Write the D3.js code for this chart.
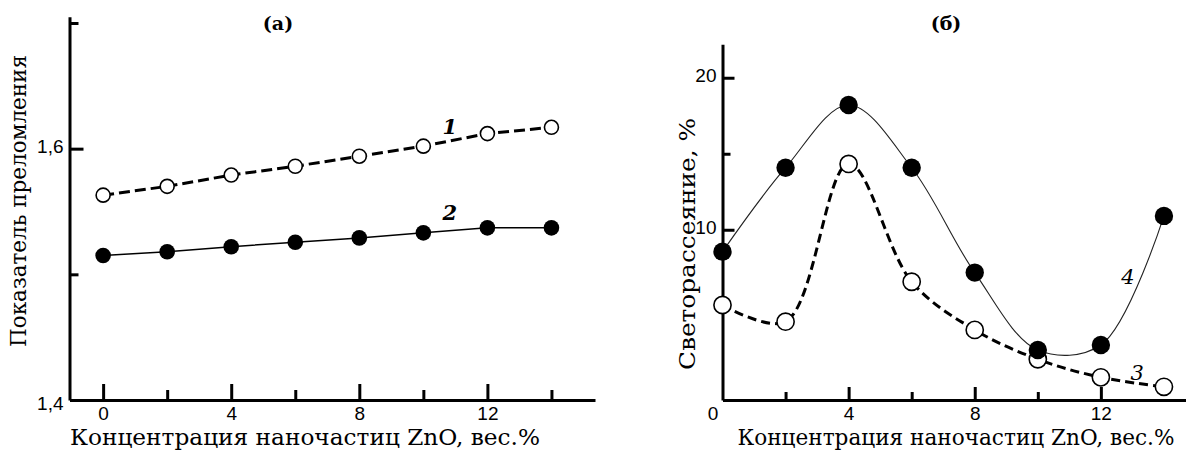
<!DOCTYPE html>
<html>
<head>
<meta charset="utf-8">
<script src="https://cdn.jsdelivr.net/npm/d3@7/dist/d3.min.js"></script>
<style>
  html, body { margin: 0; padding: 0; background: #fff; }
  svg { display: block; }
  .tick text { font-family: "Liberation Sans Narrow", "Arial Narrow", "Liberation Sans", sans-serif; font-size: 19px; fill: #000; }
  .ttl { font-family: "DejaVu Serif", "Liberation Serif", serif; fill: #000; }
</style>
</head>
<body>
<svg id="chart" width="1186" height="451"></svg>
<script>
// ---------- data ----------
const concentration = [0, 2, 4, 6, 8, 10, 12, 14];
// panel (а): refractive index
const refr1 = [1.563, 1.570, 1.579, 1.586, 1.594, 1.602, 1.612, 1.617]; // open, dashed
const refr2 = [1.515, 1.518, 1.522, 1.5255, 1.529, 1.533, 1.537, 1.537]; // filled, solid
// panel (б): light scattering, %
const scatter3 = [5.05, 3.95, 14.33, 6.58, 3.41, 1.48, 0.29, -0.33]; // open, dashed
const scatter4 = [8.56, 14.08, 18.21, 14.08, 7.18, 2.09, 2.42, 10.91]; // filled, solid
// ticks
const xTickMajorA = [0, 4, 8, 12];
const xTickMinorA = [2, 6, 10, 14];
const yTickMajorA = [1.6];
const yTickMinorA = [1.5, 1.7];
const yTickCornerA = [1.4];
const xTickMajorB = [4, 8, 12];
const xTickMinorB = [2, 6, 10];
const xTickCornerB = [0];
const yTickMajorB = [10, 20];
const yTickMinorB = [5, 15];
// texts
const titleA = "(а)";
const titleB = "(б)";
const xTitle = "Концентрация наночастиц ZnO, вес.%";
const yTitleA = "Показатель преломления";
const yTitleB = "Светорассеяние,  %";
const seriesLabelsA = [{t: "1", x: 10.83, y: 1.612}, {t: "2", x: 10.83, y: 1.543}];
const seriesLabelsB = [{t: "4", x: 12.86, y: 6.4}, {t: "3", x: 13.15, y: 0.12}];

// ---------- drawing ----------
const svg = d3.select("#chart");
const fmt = d => String(d).replace(".", ",");

function styleAxis(g, width) {
  g.selectAll("path.domain").attr("stroke", "#000").attr("stroke-width", 3);
  g.selectAll(".tick line").attr("stroke", "#000").attr("stroke-width", width || 3);
  g.attr("font-family", null).attr("font-size", null);
}

// ===== Panel (а) =====
const xA = d3.scaleLinear().domain([-1.05, 15.36]).range([69.5, 595]);
const yA = d3.scaleLinear().domain([1.4, 1.705]).range([400, 16.7]);

const gxA = svg.append("g").attr("transform", `translate(0,${yA(1.4)})`)
  .call(d3.axisBottom(xA).tickValues(xTickMajorA).tickSizeInner(-16).tickSizeOuter(0).tickPadding(7).tickFormat(fmt));
styleAxis(gxA);
const gxA2 = svg.append("g").attr("transform", `translate(0,${yA(1.4)})`)
  .call(d3.axisBottom(xA).tickValues(xTickMinorA).tickSizeInner(-10).tickSizeOuter(0).tickFormat(""));
gxA2.select(".domain").remove(); styleAxis(gxA2);

const gyA = svg.append("g").attr("transform", `translate(${xA.range()[0]},0)`)
  .call(d3.axisLeft(yA).tickValues(yTickMajorA).tickSizeInner(-14).tickSizeOuter(0).tickPadding(6).tickFormat(fmt));
styleAxis(gyA);
gyA.selectAll(".tick text").attr("dy", "0.2em");
const gyA2 = svg.append("g").attr("transform", `translate(${xA.range()[0]},0)`)
  .call(d3.axisLeft(yA).tickValues(yTickMinorA).tickSizeInner(-9).tickSizeOuter(0).tickFormat(""));
gyA2.select(".domain").remove(); styleAxis(gyA2);
const gyA3 = svg.append("g").attr("transform", `translate(${xA.range()[0]},0)`)
  .call(d3.axisLeft(yA).tickValues(yTickCornerA).tickSizeInner(0).tickSizeOuter(0).tickPadding(6).tickFormat(fmt));
gyA3.select(".domain").remove(); styleAxis(gyA3);
gyA3.selectAll(".tick text").attr("dy", "0.5em");

const lineA = d3.line().x((d, i) => xA(concentration[i])).y(d => yA(d)).curve(d3.curveLinear);
svg.append("path").datum(refr1).attr("d", lineA)
  .attr("fill", "none").attr("stroke", "#000").attr("stroke-width", 3).attr("stroke-dasharray", "11,5");
svg.append("path").datum(refr2).attr("d", lineA)
  .attr("fill", "none").attr("stroke", "#000").attr("stroke-width", 1.5);

svg.append("g").selectAll("circle").data(refr1).join("circle")
  .attr("cx", (d, i) => xA(concentration[i])).attr("cy", d => yA(d)).attr("r", 7)
  .attr("fill", "#fff").attr("stroke", "#000").attr("stroke-width", 1.6);
svg.append("g").selectAll("circle").data(refr2).join("circle")
  .attr("cx", (d, i) => xA(concentration[i])).attr("cy", d => yA(d)).attr("r", 7.8)
  .attr("fill", "#000");

svg.append("g").selectAll("text").data(seriesLabelsA).join("text")
  .attr("class", "ttl").attr("x", d => xA(d.x)).attr("y", d => yA(d.y))
  .attr("text-anchor", "middle").attr("font-size", 21).attr("font-style", "italic").attr("font-weight", "bold")
  .text(d => d.t);

svg.append("text").attr("class", "ttl").attr("x", 278).attr("y", 30).attr("text-anchor", "middle")
  .attr("font-size", 19).attr("font-weight", "bold").text(titleA);
svg.append("text").attr("class", "ttl").attr("x", 305).attr("y", 445).attr("text-anchor", "middle")
  .attr("font-size", 22).attr("textLength", 470).attr("lengthAdjust", "spacingAndGlyphs").text(xTitle);
svg.append("text").attr("class", "ttl").attr("transform", "translate(26,201) rotate(-90)")
  .attr("text-anchor", "middle").attr("font-size", 22).attr("textLength", 292).attr("lengthAdjust", "spacingAndGlyphs").text(yTitleA);

// ===== Panel (б) =====
const xB = d3.scaleLinear().domain([0, 14.7]).range([722.5, 1186]);
const yB = d3.scaleLinear().domain([-1.2, 22.2]).range([400, 44.3]);

const gxB = svg.append("g").attr("transform", `translate(0,${yB(-1.2)})`)
  .call(d3.axisBottom(xB).tickValues(xTickMajorB).tickSizeInner(-13).tickSizeOuter(0).tickPadding(7).tickFormat(fmt));
styleAxis(gxB);
const gxB2 = svg.append("g").attr("transform", `translate(0,${yB(-1.2)})`)
  .call(d3.axisBottom(xB).tickValues(xTickMinorB).tickSizeInner(-8).tickSizeOuter(0).tickFormat(""));
gxB2.select(".domain").remove(); styleAxis(gxB2);
const gxB3 = svg.append("g").attr("transform", `translate(0,${yB(-1.2)})`)
  .call(d3.axisBottom(xB).tickValues(xTickCornerB).tickSizeInner(0).tickSizeOuter(0).tickPadding(7).tickFormat(fmt));
gxB3.select(".domain").remove(); styleAxis(gxB3);
gxB3.selectAll(".tick text").attr("dx", -10);

const gyB = svg.append("g").attr("transform", `translate(${xB.range()[0]},0)`)
  .call(d3.axisLeft(yB).tickValues(yTickMajorB).tickSizeInner(-12).tickSizeOuter(0).tickPadding(6).tickFormat(fmt));
styleAxis(gyB);
gyB.selectAll(".tick text").attr("dy", "0.2em");
const gyB2 = svg.append("g").attr("transform", `translate(${xB.range()[0]},0)`)
  .call(d3.axisLeft(yB).tickValues(yTickMinorB).tickSizeInner(-8).tickSizeOuter(0).tickFormat(""));
gyB2.select(".domain").remove(); styleAxis(gyB2);

const lineB = d3.line().x((d, i) => xB(concentration[i])).y(d => yB(d)).curve(d3.curveCatmullRom.alpha(0.5));
svg.append("path").datum(scatter4).attr("d", lineB)
  .attr("fill", "none").attr("stroke", "#222").attr("stroke-width", 1.1);
svg.append("path").datum(scatter3).attr("d", lineB)
  .attr("fill", "none").attr("stroke", "#000").attr("stroke-width", 3).attr("stroke-dasharray", "9,5");

svg.append("g").selectAll("circle").data(scatter3).join("circle")
  .attr("cx", (d, i) => xB(concentration[i])).attr("cy", d => yB(d)).attr("r", 8.6)
  .attr("fill", "#fff").attr("stroke", "#000").attr("stroke-width", 1.6);
svg.append("g").selectAll("circle").data(scatter4).join("circle")
  .attr("cx", (d, i) => xB(concentration[i])).attr("cy", d => yB(d)).attr("r", 9.2)
  .attr("fill", "#000");

svg.append("g").selectAll("text").data(seriesLabelsB).join("text")
  .attr("class", "ttl").attr("x", d => xB(d.x)).attr("y", d => yB(d.y))
  .attr("text-anchor", "middle").attr("font-size", 21).attr("font-style", "italic")
  .text(d => d.t);

svg.append("text").attr("class", "ttl").attr("x", 946).attr("y", 30).attr("text-anchor", "middle")
  .attr("font-size", 19).attr("font-weight", "bold").text(titleB);
svg.append("text").attr("class", "ttl").attr("x", 956).attr("y", 445).attr("text-anchor", "middle")
  .attr("font-size", 22).attr("textLength", 437).attr("lengthAdjust", "spacingAndGlyphs").text(xTitle);
svg.append("text").attr("class", "ttl").attr("transform", "translate(695,244) rotate(-90)")
  .attr("text-anchor", "middle").attr("font-size", 22).attr("textLength", 252).attr("lengthAdjust", "spacingAndGlyphs").text(yTitleB);
</script>
</body>
</html>
